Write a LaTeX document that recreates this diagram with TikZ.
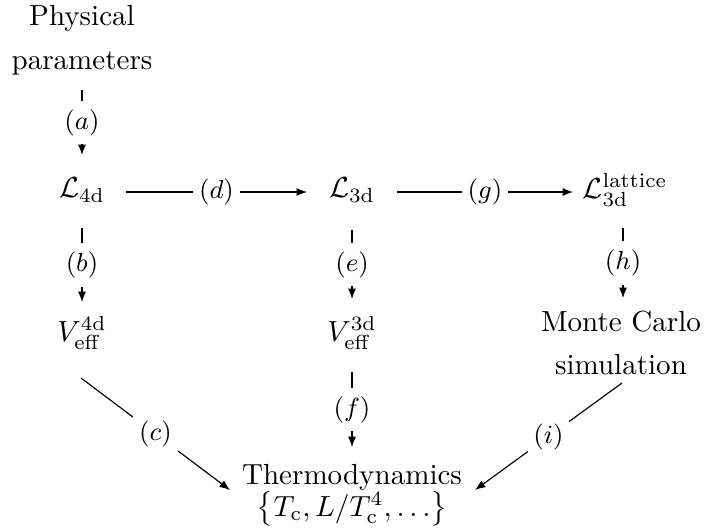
\documentclass[tikz,border=0pt]{standalone}
\usetikzlibrary{arrows.meta}
\begin{document}
\begin{tikzpicture}[x=0.344pt,y=-0.344pt,
  obj/.style={inner sep=0pt,align=center,font=\normalsize},
  conn/.style={line width=0.4pt,-{Latex[length=3.6pt,width=2.8pt]}},
  lab/.style={fill=white,inner xsep=2pt,inner ysep=3pt,font=\small}]
\useasboundingbox (0,0) rectangle (706,527);
% objects
\node[obj] (pp)  at (82,40)  {Physical\\[3pt]parameters};
\node[obj] (l4)  at (82,190) {$\mathcal{L}_{\mathrm{4d}}$};
\node[obj] (l3)  at (352,190) {$\mathcal{L}_{\mathrm{3d}}$};
\node[obj] (ll)  at (625,190) {$\mathcal{L}_{\mathrm{3d}}^{\mathrm{lattice}}$};
\node[obj] (v4)  at (82,333) {$V_{\mathrm{eff}}^{\mathrm{4d}}$};
\node[obj] (v3)  at (352,333) {$V_{\mathrm{eff}}^{\mathrm{3d}}$};
\node[obj] (mc)  at (621,343) {Monte Carlo\\[3pt]simulation};
\node[obj,anchor=south] (th) at (352,527) {Thermodynamics\\[-1pt]$\bigl\{T_{\mathrm{c}}, L/T_{\mathrm{c}}^4, \dots\bigr\}$};
% connectors
\draw[conn] ([shift={(0,50)}]pp.center) -- node[lab] {$(a)$} ([shift={(0,-35)}]l4.center);
\draw[conn] ([shift={(0,38)}]l4.center) -- node[lab] {$(b)$} ([shift={(0,-31)}]v4.center);
\draw[conn] ([shift={(44,2)}]l4.center) -- node[lab] {$(d)$} ([shift={(-45,2)}]l3.center);
\draw[conn] ([shift={(45,2)}]l3.center) -- node[lab] {$(g)$} ([shift={(-52,2)}]ll.center);
\draw[conn] ([shift={(0,40)}]l3.center) -- node[lab] {$(e)$} ([shift={(0,-34)}]v3.center);
\draw[conn] ([shift={(0,39)}]v3.center) -- node[lab] {$(f)$} ([shift={(0,-80)}]th.south);
\draw[conn] ([shift={(-2,38)}]ll.center) -- node[lab] {$(h)$} ([shift={(2,-45)}]mc.center);
\draw[conn] ([shift={(-1,45)}]v4.center) -- node[lab] {$(c)$} ([shift={(-122,-37)}]th.south);
\draw[conn] ([shift={(1,40)}]mc.center) -- node[lab] {$(i)$} ([shift={(123,-37)}]th.south);
\end{tikzpicture}
\end{document}
